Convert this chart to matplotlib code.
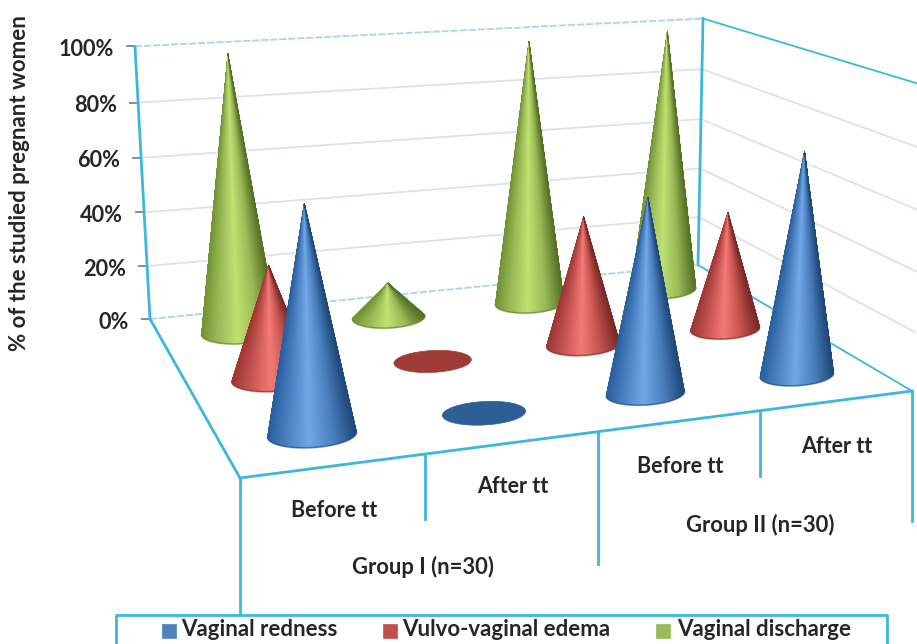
import numpy as np
import matplotlib
matplotlib.use("Agg")
import matplotlib.pyplot as plt
from matplotlib.colors import to_rgb
from matplotlib.patches import Rectangle, Ellipse

# data
groups = ["Group I (n=30)", "Group II (n=30)"]
times = ["Before tt", "After tt", "Before tt", "After tt"]
series_names = ["Vaginal redness", "Vulvo-vaginal edema", "Vaginal discharge"]
redness = [72, 0, 65, 76]
edema = [39, 0, 46, 43]
discharge = [100, 13, 99, 100]
yticks = [0, 20, 40, 60, 80, 100]

FONT = "Lato"
LINE = "#3db7dc"
GRID = "#dfe0ee"
TXT = "#262626"

# colours: dark, mid, bright for each series
shades = [("#24568f", "#4a7fbf", "#74a9ea"),
          ("#8f322f", "#c4524e", "#f67d78"),
          ("#66862e", "#98b955", "#c2e472")]
flat_col = ["#2c5f95", "#9e3b37", "#8fae4a"]
legend_col = ["#4f81bd", "#c0504d", "#9bbb59"]

# picture positions of the box corners, (category, series, height) -> pixels
floor_uv = [(0, 0), (4, 0), (4, 3), (0, 3)]
floor_px = [(240, 478), (912, 391), (698, 265), (150, 319)]
top_uv = [(0, 3), (4, 3)]
top_px = [(135, 47), (703, 18)]


def make_projection():
    A = []
    b = []
    for (u, v), (x, y) in zip(floor_uv, floor_px):
        A.append([u, v, 1, 0, 0, 0, -x * u, -x * v])
        b.append(x)
        A.append([0, 0, 0, u, v, 1, -y * u, -y * v])
        b.append(y)
    h = np.linalg.solve(np.array(A, float), np.array(b, float))
    H = np.append(h, 1).reshape(3, 3)
    A = []
    b = []
    for (u, v), (x, y) in zip(top_uv, top_px):
        q = np.array([u, v, 1.0])
        A.append([1, 0, -x])
        b.append(x * H[2] @ q - H[0] @ q)
        A.append([0, 1, -y])
        b.append(y * H[2] @ q - H[1] @ q)
    col = np.linalg.lstsq(np.array(A, float), np.array(b, float), rcond=None)[0]
    return H, col


H, zcol = make_projection()


def proj(u, v, z=0.0):
    p = H @ np.array([u, v, 1.0]) + zcol * z / 100.0
    return p[:2] / p[2]


def cone(ax, u, v, val, idx, order):
    cx, cy = proj(u, v)
    left = proj(u - 0.25, v)
    right = proj(u + 0.25, v)
    rx = (right[0] - left[0]) / 2
    ry = rx * 0.29
    tilt = 0.45 * (right[1] - left[1]) / (right[0] - left[0])
    if val == 0:
        ax.add_patch(Ellipse((cx, cy), 2 * rx, 2 * ry * 0.97, angle=np.degrees(np.arctan(tilt)),
                             fc=flat_col[idx], ec=flat_col[idx], lw=0.5, zorder=order))
        return
    ax_, ay = proj(u, v, val)
    dark, mid, bright = [np.array(to_rgb(c)) for c in shades[idx]]
    th = np.linspace(np.pi * 1.03, -0.03 * np.pi, 200)
    xs = cx + rx * np.cos(th)
    ys = cy + ry * np.sin(th) + tilt * rx * np.cos(th)
    # solid shape first, thin facets alone let the cone behind show through
    ax.fill(np.append(xs, ax_), np.append(ys, ay), fc=mid, ec=mid, lw=0.3, zorder=order)
    for i in range(len(th) - 1):
        t = np.cos((th[i] + th[i + 1]) / 2)
        col = [np.interp(t, [-1, -0.6, -0.05, 0.5, 1],
                         [dark[k] * 1.1, mid[k], bright[k], mid[k], dark[k] * 0.85]) for k in range(3)]
        col = np.clip(col, 0, 1)
        ax.fill([ax_, xs[i], xs[i + 1]], [ay, ys[i], ys[i + 1]], fc=col, ec=col, lw=0.25, zorder=order)
    # darker rim at the foot
    ax.plot(xs[8:-8], ys[8:-8] + 0.3, color=dark, lw=1.2, alpha=0.7, zorder=order + 0.01)


fig = plt.figure(figsize=(9.17, 6.44), dpi=100)
ax = fig.add_axes([0, 0, 1, 1])
ax.set_xlim(0, 917)
ax.set_ylim(644, 0)
ax.axis("off")

# gridlines on both walls
for val in yticks:
    a = proj(0, 3, val)
    b = proj(4, 3, val)
    c = proj(4, 0, val)
    if val in (0, 100):
        ax.plot([a[0], b[0]], [a[1], b[1]], color="#a9d6ea", lw=1.3, ls=(0, (4, 1)), zorder=1)
    else:
        ax.plot([a[0], b[0]], [a[1], b[1]], color=GRID, lw=1.3, zorder=1)
        ax.plot([b[0], c[0]], [b[1], c[1]], color=GRID, lw=1.3, zorder=1)
    tick = proj(0, 3, val)
    ax.plot([tick[0] - 8, tick[0]], [tick[1], tick[1]], color="#8a7f80", lw=1.3, zorder=2)
    ax.text(tick[0] - 21, tick[1] + 3, "%d%%" % val, ha="right", va="center",
            family=FONT, weight="bold", fontsize=15.6, color=TXT)

# box edges
edges = [((0, 3, 0), (0, 3, 100)), ((4, 3, 0), (4, 3, 100)), ((0, 0, 0), (0, 3, 0)),
         ((0, 0, 0), (4, 0, 0))]
for s, e in edges:
    s = proj(*s)
    e = proj(*e)
    ax.plot([s[0], e[0]], [s[1], e[1]], color=LINE, lw=2, zorder=2)
for s, e in [((4, 3, 100), (4, 0, 100)), ((4, 3, 0), (4, 0, 0))]:
    s = proj(*s)
    e = proj(*e)
    ax.plot([s[0], e[0]], [s[1], e[1]], color=LINE, lw=1.3, zorder=2)

# axis ticks below the floor, long ones split the groups
tick_len = [137, 65, 132, 65, 130]
for u, ln in enumerate(tick_len):
    x, y = proj(u, 0)
    ax.plot([x, x], [y, y + ln], color=LINE, lw=2, zorder=2)

# cones, back row first
series = [redness, edema, discharge]
for idx in [2, 1, 0]:
    for i in range(len(times)):
        cone(ax, i + 0.5, idx + 0.5, series[idx][i], idx, 5 + (2 - idx) + i * 0.1)

# category labels under the floor
label_drop = [45, 44, 46, 46]
for i, t in enumerate(times):
    x, y = proj(i + 0.5, 0)
    ax.text(x, y + label_drop[i], t, ha="center", va="center", family=FONT, weight="bold",
            fontsize=15.5, color=TXT)
for g, (x, y) in zip(groups, [(proj(1.0, 0)[0] - 2, 567), (proj(3.0, 0)[0] + 0, 525)]):
    ax.text(x, y, g, ha="center", va="center", family=FONT, weight="bold", fontsize=15.8, color=TXT)

ax.text(20, 183, "% of the studied pregnant women", rotation=90, ha="center", va="center",
        family=FONT, weight="bold", fontsize=16, color=TXT)

# legend box, its bottom edge runs off the picture
ax.plot([116, 116, 887, 887], [650, 615, 615, 650], color=LINE, lw=2, zorder=2)
square_x = [162, 383, 656]
text_x = [181, 402, 677]
for name, col, sx, tx in zip(series_names, legend_col, square_x, text_x):
    ax.add_patch(Rectangle((sx, 624), 14, 14, fc=col, ec=col, lw=0.5, zorder=3))
    ax.text(tx, 630, name, ha="left", va="center", family=FONT, weight="bold", fontsize=16, color=TXT)

fig.savefig("out.png", dpi=100)
